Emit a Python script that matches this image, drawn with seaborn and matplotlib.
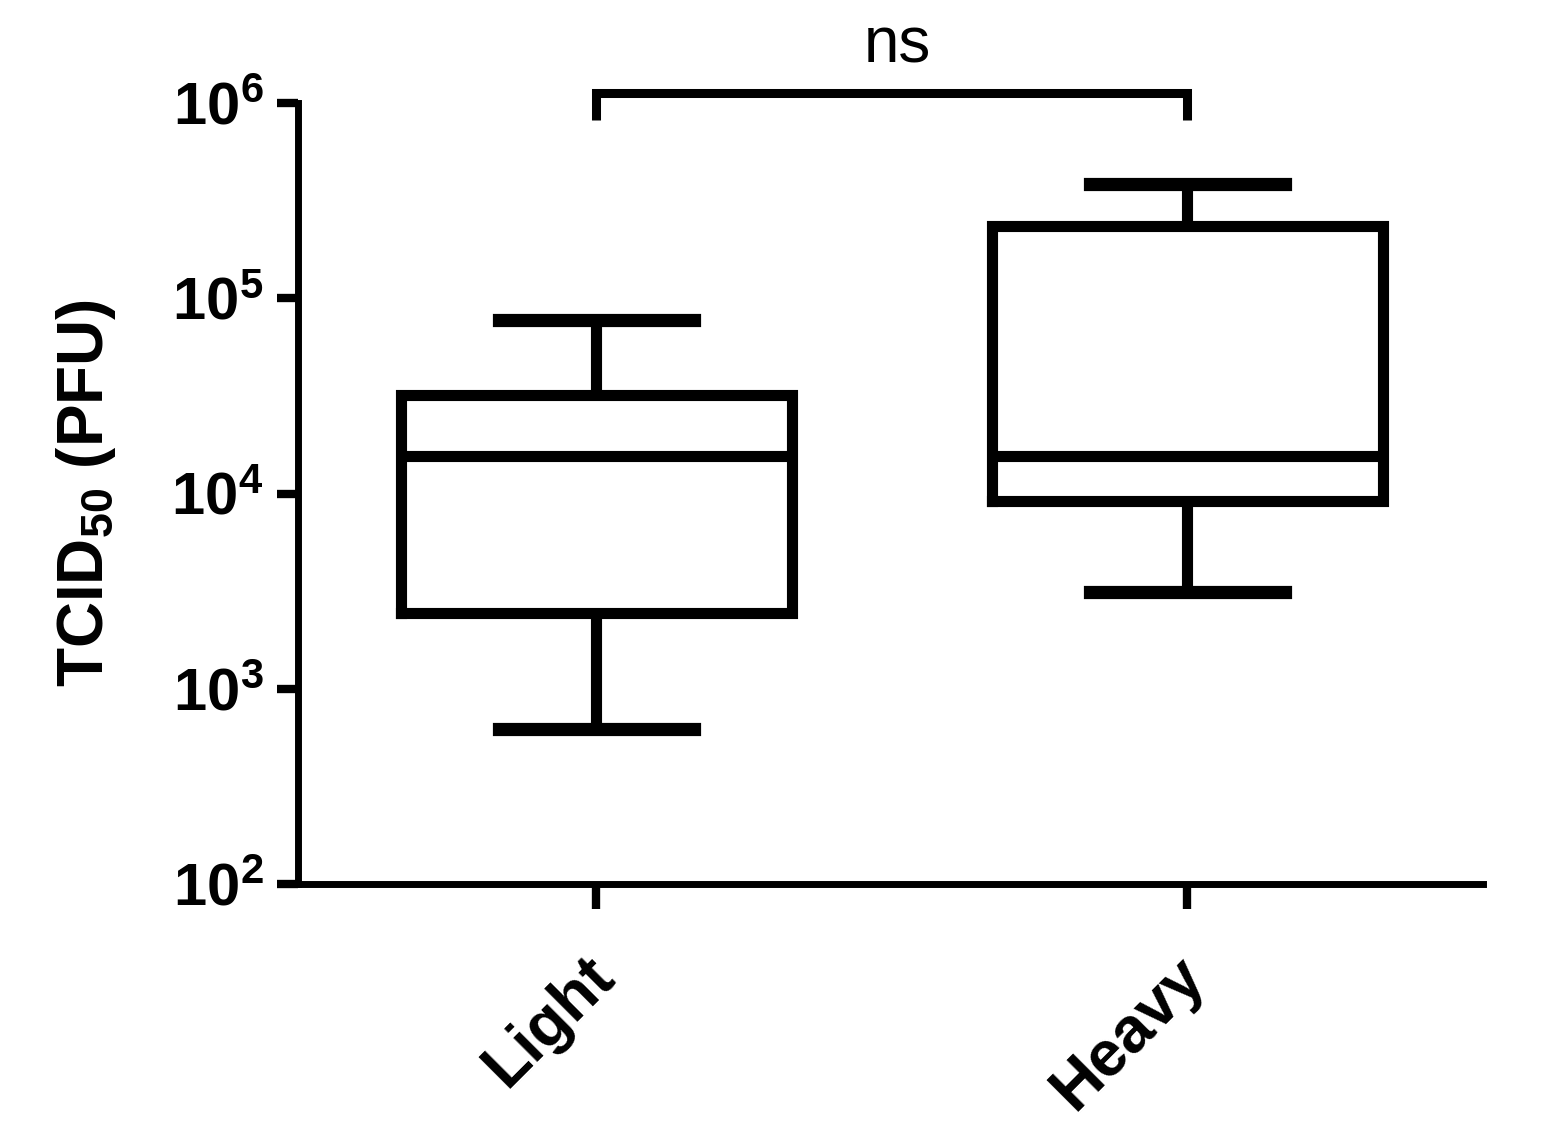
import numpy as np
import pandas as pd
import matplotlib
matplotlib.use("Agg")
import matplotlib.pyplot as plt
import matplotlib.transforms as mtransforms
import seaborn as sns
from matplotlib.ticker import FixedLocator, FuncFormatter, NullLocator

# ---- data (five-number summaries) ----
categories = ["Light", "Heavy"]
light_values = [620, 2450, 15600, 32000, 77000]      # min, Q1, median, Q3, max
heavy_values = [3120, 9100, 15600, 235000, 385000]
ytick_values = [1e2, 1e3, 1e4, 1e5, 1e6]
ns_label = "ns"
ylabel_text = r"TCID$_{\mathbf{50}}$ (PFU)"

sns.set_theme(style="ticks")
plt.rcParams["font.family"] = ["Liberation Sans", "DejaVu Sans"]
plt.rcParams["mathtext.fontset"] = "custom"
plt.rcParams["mathtext.bf"] = "Liberation Sans:bold"
plt.rcParams["mathtext.rm"] = "Liberation Sans"
plt.rcParams["mathtext.it"] = "Liberation Sans:italic"
plt.rcParams["lines.solid_capstyle"] = "projecting"
plt.rcParams["lines.solid_joinstyle"] = "miter"

df = pd.DataFrame({
    "group": [categories[0]] * len(light_values) + [categories[1]] * len(heavy_values),
    "value": light_values + heavy_values,
})

fig = plt.figure(figsize=(15.45, 11.44), dpi=100)
ax = fig.add_axes([298 / 1545, 1 - 884 / 1144, (1483 - 298) / 1545, (884 - 103) / 1144])

lw = 8
sns.boxplot(data=df, x="group", y="value", order=categories, ax=ax,
            log_scale=True, whis=(0, 100), width=0.66, fill=False,
            color="black", linecolor="black", linewidth=lw, showfliers=False,
            capprops={"linewidth": 9.5, "solid_capstyle": "projecting"},
            whiskerprops={"linewidth": lw, "solid_capstyle": "butt"},
            boxprops={"solid_joinstyle": "miter"},
            medianprops={"linewidth": lw, "solid_capstyle": "butt"})

ax.set_ylim(1e2, 1e6)
ax.set_xlim(-0.505, 1.5)
ax.yaxis.set_major_locator(FixedLocator(ytick_values))
ax.yaxis.set_minor_locator(NullLocator())
ax.yaxis.set_major_formatter(FuncFormatter(lambda v, p: r"$\mathbf{10^{%d}}$" % round(np.log10(v))))

for s in ["top", "right"]:
    ax.spines[s].set_visible(False)
for s in ["left", "bottom"]:
    ax.spines[s].set_linewidth(5)
    ax.spines[s].set_color("black")

ax.tick_params(axis="y", which="major", length=15, width=6, color="black",
               labelsize=43, pad=10, labelcolor="black")
ax.tick_params(axis="x", which="major", length=18, width=6, color="black",
               labelsize=46, pad=26, labelcolor="black")
shift = mtransforms.ScaledTranslation(-13 / 100, 0, fig.dpi_scale_trans)
for lab in ax.get_xticklabels():
    lab.set_rotation(45)
    lab.set_ha("right")
    lab.set_va("top")
    lab.set_rotation_mode("anchor")
    lab.set_fontweight("bold")
    lab.set_transform(lab.get_transform() + shift)

ax.set_xlabel("")
ax.set_ylabel(ylabel_text, fontsize=46, fontweight="bold", color="black", labelpad=38)

# significance bracket
ax.plot([0, 0, 1, 1], [8.2e5, 1.12e6, 1.12e6, 8.2e5], color="black", lw=6.5,
        clip_on=False, solid_joinstyle="miter", solid_capstyle="butt")
ax.text(0.51, 1.98e6, ns_label, ha="center", va="center", fontsize=46, color="black")

fig.savefig("out.png", dpi=100, facecolor="white")
